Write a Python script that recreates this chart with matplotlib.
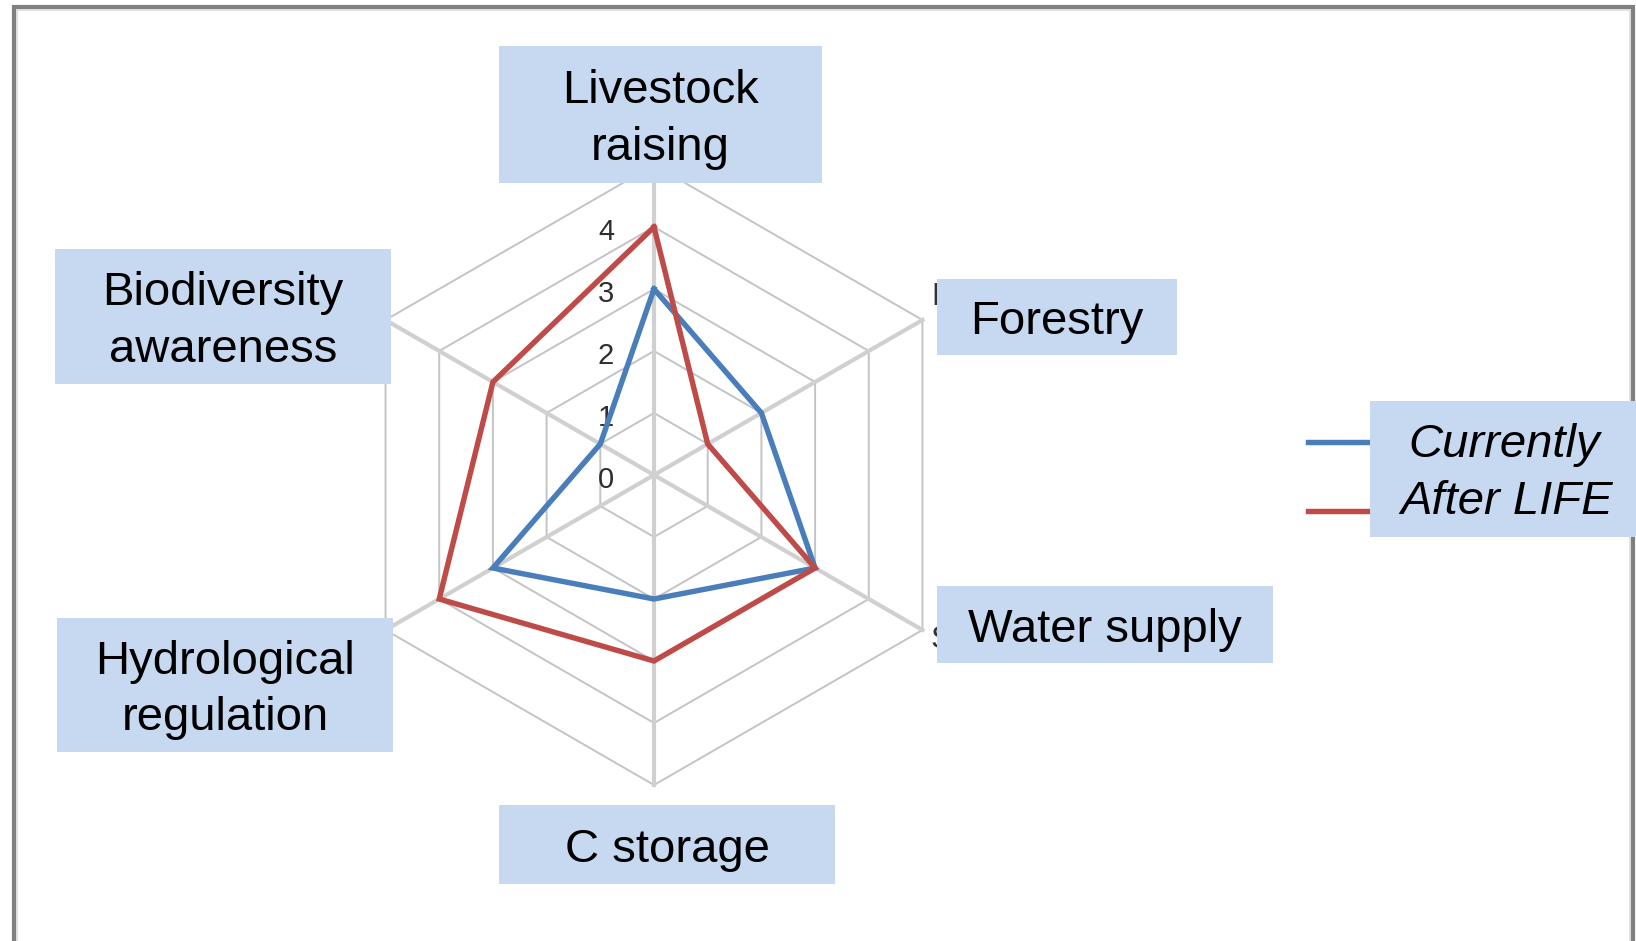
import numpy as np
import matplotlib
matplotlib.use("Agg")
import matplotlib.pyplot as plt
from matplotlib.patches import Rectangle

# ---------------- data ----------------
categories = ["Livestock\nraising", "Forestry", "Water supply", "C storage",
              "Hydrological\nregulation", "Biodiversity\nawareness"]
currently = [3, 2, 3, 2, 3, 1]
after_life = [4, 1, 3, 3, 4, 3]
series_names = ["Currently", "After LIFE"]
tick_values = [0, 1, 2, 3, 4]
r_max = 5

# ---------------- layout / style ----------------
W, H = 1636, 941
DPI = 100
CX, CY = 654, 475          # radar centre in pixels (from top-left)
UNIT = 62                  # pixels per radial unit
BOX = "#C6D9F1"
BLUE = "#4A7EBB"
RED = "#BE4B48"
plt.rcParams['font.family'] = ['Liberation Sans', 'DejaVu Sans']

fig = plt.figure(figsize=(W / DPI, H / DPI), dpi=DPI)
ax = fig.add_axes([0, 0, 1, 1])
ax.set_xlim(-CX / UNIT, (W - CX) / UNIT)
ax.set_ylim(-(H - CY) / UNIT, CY / UNIT)
ax.axis("off")

def fx(px):
    return px / W

def fy(py):
    return 1 - py / H

n = len(categories)
angles = np.deg2rad(90 - 60 * np.arange(n))

def to_xy(vals):
    v = np.asarray(vals, dtype=float)
    x = v * np.cos(angles)
    y = v * np.sin(angles)
    return np.append(x, x[0]), np.append(y, y[0])

# grid rings
for k in range(1, r_max + 1):
    gx, gy = to_xy([k] * n)
    ax.plot(gx, gy, color="#C4C4C4", lw=1.4, zorder=1, solid_joinstyle="miter")
# radial axes
for a in angles:
    ax.plot([0, r_max * np.cos(a)], [0, r_max * np.sin(a)],
            color="#D0D0D0", lw=3.0, zorder=1)

# tick labels
for t in tick_values:
    ax.text(-48 / UNIT, t - 5 / UNIT, str(t), fontsize=21, color="#2E2E2E",
            ha="center", va="center", zorder=2)

# series
for vals, col, name in zip([currently, after_life], [BLUE, RED], series_names):
    sx, sy = to_xy(vals)
    ax.plot(sx, sy, color=col, lw=3.9, zorder=3, solid_joinstyle="miter", label=name)

# hidden original category labels partly peeking out from behind boxes
fig.text(fx(931), fy(305), "F", fontsize=23, color="#333333", ha="left",
         va="baseline", zorder=4)
fig.text(fx(931), fy(648), "S", fontsize=23, color="#333333", ha="left",
         va="baseline", zorder=4)

# category label boxes: (left, top, right, bottom) in px
boxes = [
    (499, 46, 822, 183),
    (937, 279, 1177, 355),
    (937, 586, 1273, 663),
    (499, 805, 835, 884),
    (57, 618, 393, 752),
    (55, 249, 391, 384),
]
for (l, t, r, b), lab in zip(boxes, categories):
    fig.patches.append(Rectangle((fx(l), fy(b)), fx(r) - fx(l), fy(t) - fy(b),
                                 transform=fig.transFigure, facecolor=BOX,
                                 edgecolor="none", zorder=5))
    fig.text(fx((l + r) / 2), fy((t + b) / 2 + 5), lab, fontsize=34, color="black",
             ha="center", va="center", linespacing=1.38, zorder=6)

# legend
leg_l, leg_t, leg_r, leg_b = 1370, 401, 1640, 537
fig.add_artist(plt.Line2D([fx(1308), fx(1372)], [fy(442), fy(442)], color=BLUE,
                          lw=3.9, transform=fig.transFigure, zorder=4))
fig.add_artist(plt.Line2D([fx(1308), fx(1372)], [fy(511), fy(511)], color=RED,
                          lw=3.9, transform=fig.transFigure, zorder=4))

# outer frame
fig.patches.append(Rectangle((fx(14), fy(960)), fx(1633) - fx(14), fy(7) - fy(960),
                             transform=fig.transFigure, facecolor="none",
                             edgecolor="#808080", lw=3.0, zorder=3))
fig.patches.append(Rectangle((fx(17), fy(960)), fx(1630) - fx(17), fy(10) - fy(960),
                             transform=fig.transFigure, facecolor="none",
                             edgecolor="#DADADA", lw=1.2, zorder=3))

fig.patches.append(Rectangle((fx(leg_l), fy(leg_b)), fx(leg_r) - fx(leg_l),
                             fy(leg_t) - fy(leg_b), transform=fig.transFigure,
                             facecolor=BOX, edgecolor="none", zorder=5))
fig.text(fx(1504), fy(445), series_names[0], fontsize=34, style="italic",
         ha="center", va="center", zorder=6)
fig.text(fx(1507), fy(502), series_names[1], fontsize=34, style="italic",
         ha="center", va="center", zorder=6)

fig.savefig("out.png", dpi=DPI)
